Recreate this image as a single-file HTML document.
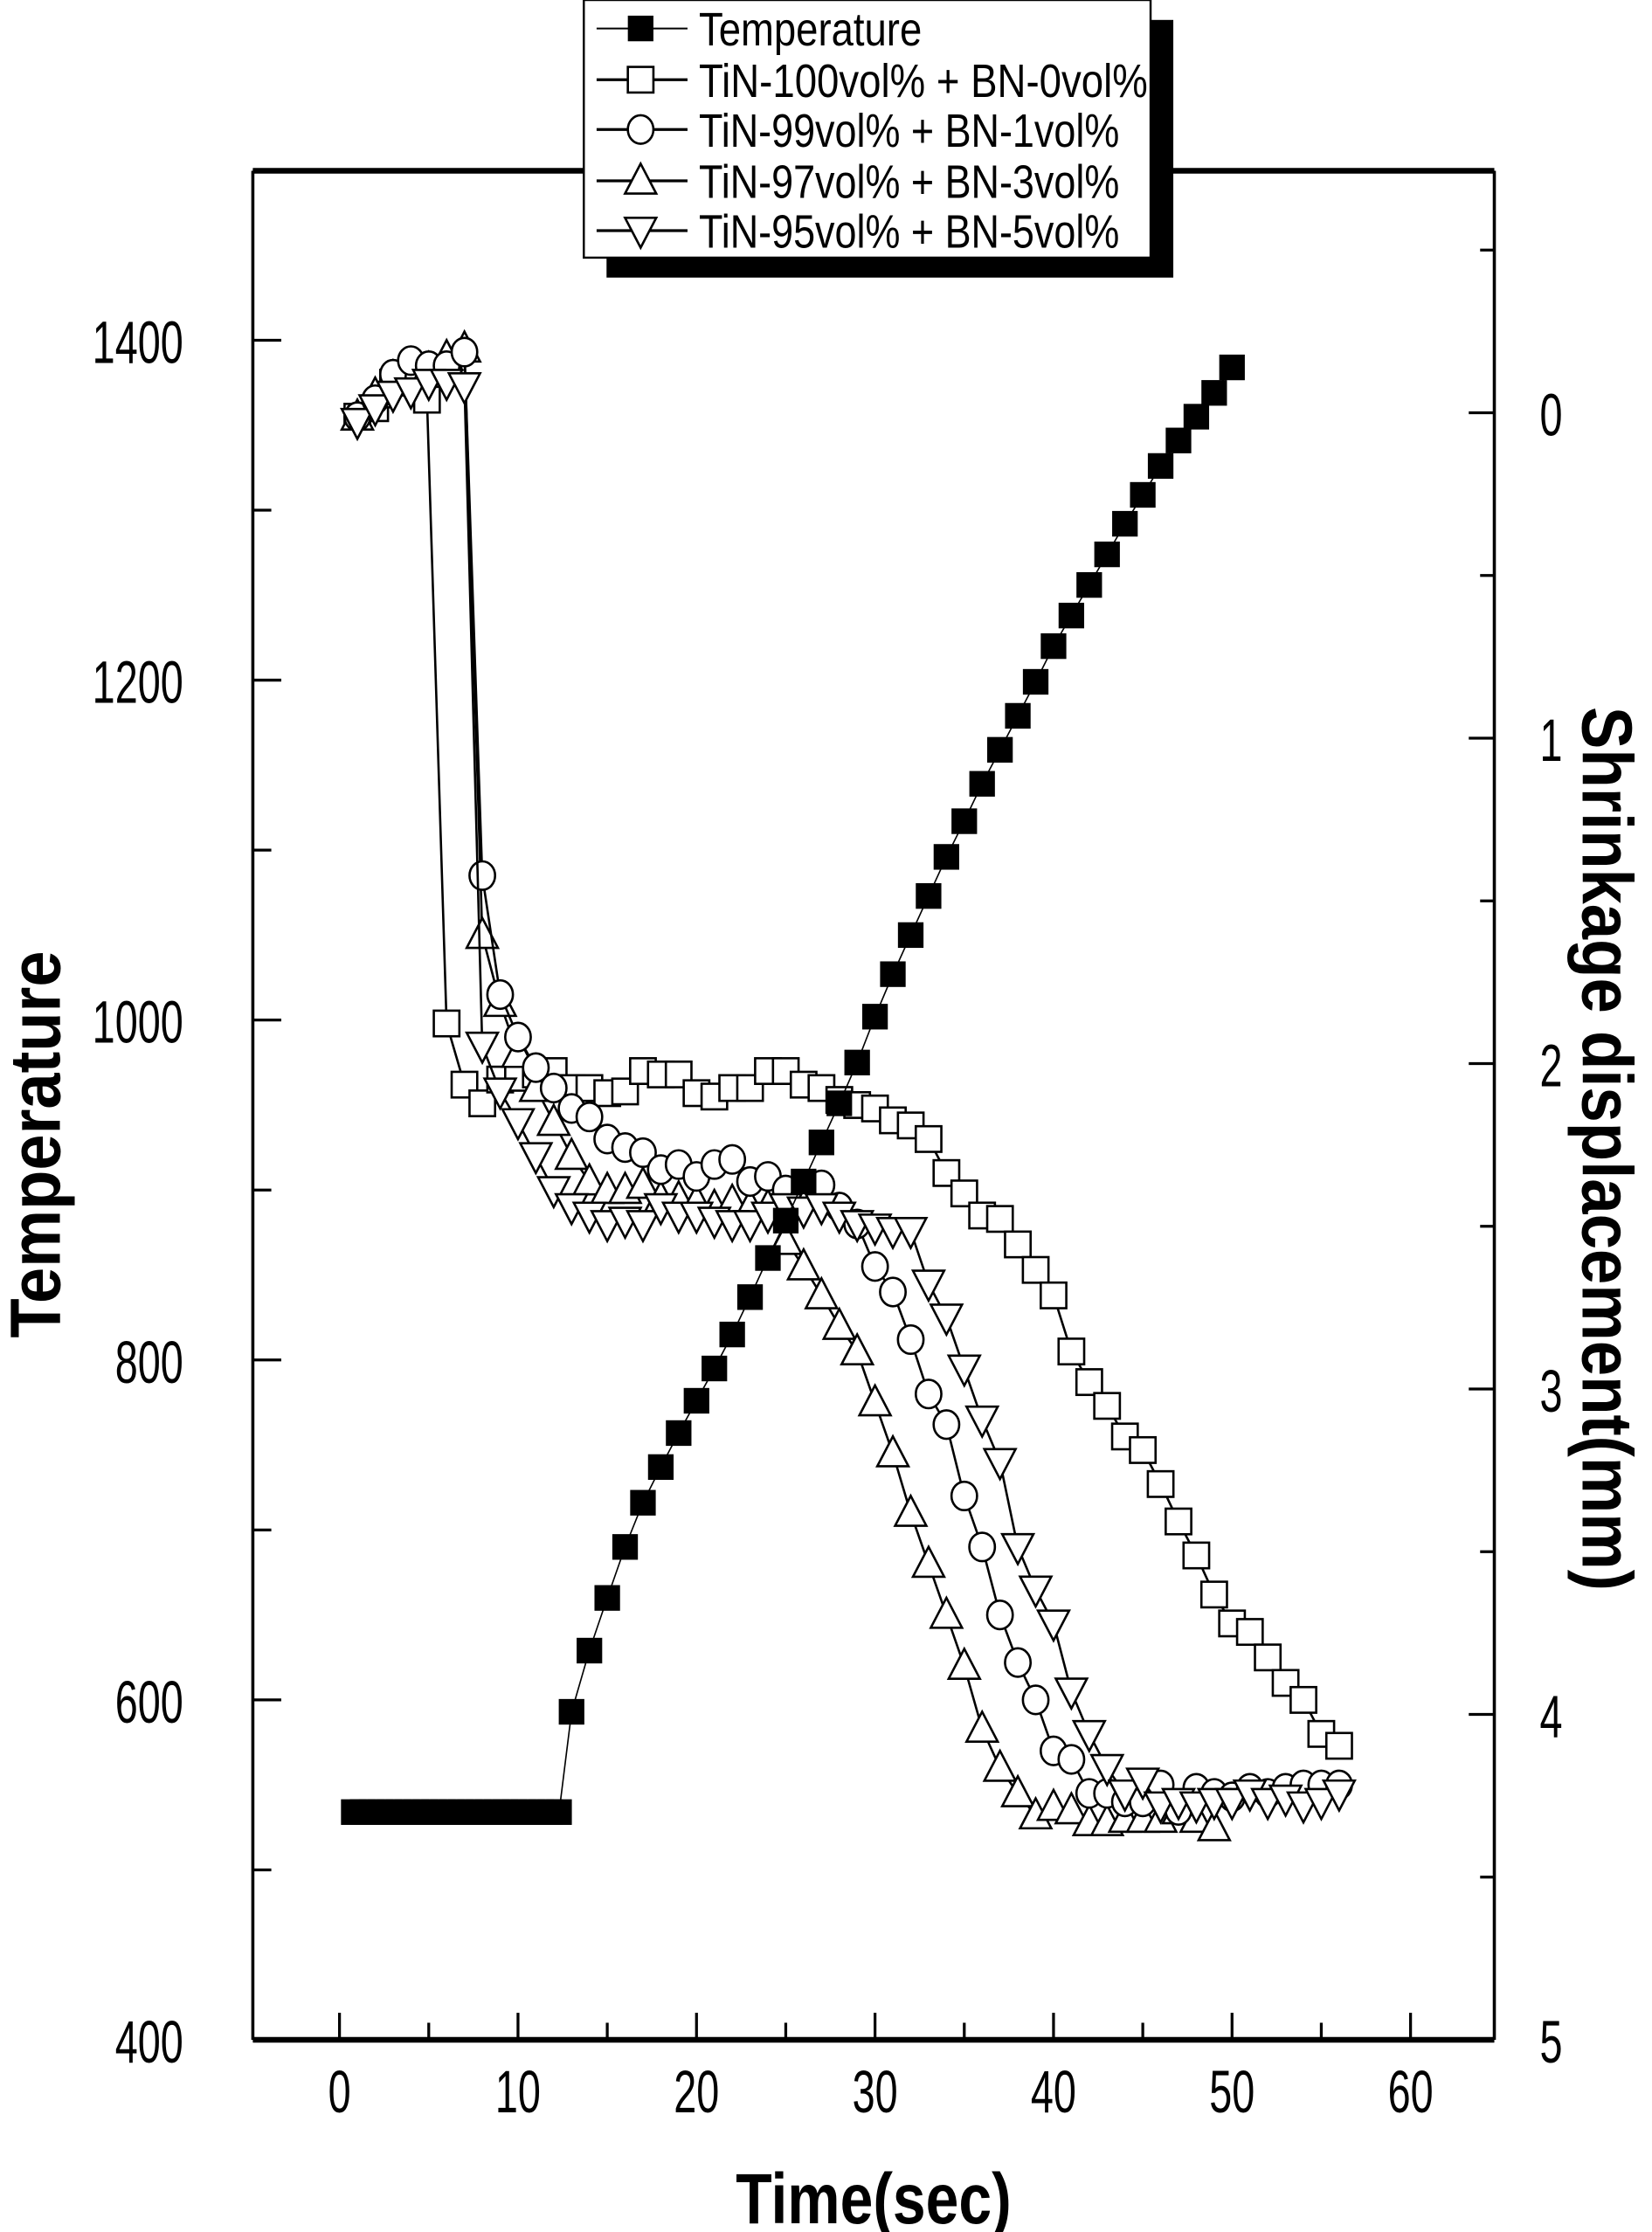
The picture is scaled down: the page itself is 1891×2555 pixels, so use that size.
<!DOCTYPE html>
<html><head><meta charset="utf-8"><style>
html,body{margin:0;padding:0;background:#fff;}
svg{display:block;}
text{font-family:"Liberation Sans Narrow","Liberation Sans",sans-serif;fill:#000;}
</style></head><body>
<svg id="s" width="1891" height="2555" viewBox="0 0 1163 1568" preserveAspectRatio="none" xmlns="http://www.w3.org/2000/svg">
<rect x="0" y="0" width="1163" height="1568" fill="#fff"/>
<g id="axes" stroke="#000" fill="none">
<line x1="178" y1="120" x2="1052" y2="120" stroke-width="4"/>
<line x1="178" y1="1433" x2="1052" y2="1433" stroke-width="4"/>
<line x1="178" y1="120" x2="178" y2="1433" stroke-width="2.2"/>
<line x1="1052" y1="120" x2="1052" y2="1433" stroke-width="2.2"/>
</g>
<g id="ticks" stroke="#000" stroke-width="2"></g>
<g id="labels" font-size="42"></g>
<g id="data"></g>
<text x="615" y="1562" font-size="50" font-weight="bold" text-anchor="middle" textLength="194" lengthAdjust="spacingAndGlyphs">Time(sec)</text>
<text transform="translate(42,804) rotate(-90)" font-size="50" font-weight="bold" text-anchor="middle" textLength="272" lengthAdjust="spacingAndGlyphs">Temperature</text>
<text transform="translate(1114,807) rotate(90)" font-size="50" font-weight="bold" text-anchor="middle" textLength="621" lengthAdjust="spacingAndGlyphs">Shrinkage displacement(mm)</text>
<g id="legend">
<rect x="427" y="14" width="399" height="181" fill="#000"/>
<rect x="411" y="0" width="399" height="181" fill="#fff" stroke="#000" stroke-width="1.5"/>
</g>
</svg>
<script>
var NS="http://www.w3.org/2000/svg";
function el(p,t,a){var e=document.createElementNS(NS,t);for(var k in a)e.setAttribute(k,a[k]);p.appendChild(e);return e;}
var X=function(t){return 239+t*12.567;};
var Y=function(v){return 1433-(v-400)*1.194;};
var tk=document.getElementById('ticks'),lb=document.getElementById('labels'),dg=document.getElementById('data'),lg=document.getElementById('legend');
for(var t=0;t<=60;t+=5){var x=X(t);var L=(t%10==0)?19:12;el(tk,'line',{x1:x,y1:1433,x2:x,y2:1433-L});}
for(var t=0;t<=60;t+=10){var s=String(t);var e=el(lb,'text',{x:X(t),y:1484,'text-anchor':'middle',textLength:s.length*16,lengthAdjust:'spacingAndGlyphs'});e.textContent=s;}
for(var v=400;v<=1500;v+=100){var y=Y(v);var L=(v%200==0)?20:13;el(tk,'line',{x1:178,y1:y,x2:178+L,y2:y});
 if(v%200==0&&v<=1400){var s=String(v);var e=el(lb,'text',{x:129,y:y+16,'text-anchor':'end',textLength:s.length*16,lengthAdjust:'spacingAndGlyphs'});e.textContent=s;}}
for(var r=-0.5;r<=5;r+=0.5){var y=290+r*228.6;var L=(Math.abs(r%1)<0.01)?18:10;el(tk,'line',{x1:1052,y1:y,x2:1052-L,y2:y});
 if(Math.abs(r%1)<0.01&&r>=0){var e=el(lb,'text',{x:1084,y:y+16,'text-anchor':'start',textLength:16,lengthAdjust:'spacingAndGlyphs'});e.textContent=r;}}
function marker(g,type,x,y){
 var s=9,sw=1.6;
 if(type=='fs')el(g,'rect',{x:x-s,y:y-s,width:2*s,height:2*s,fill:'#000'});
 else if(type=='s')el(g,'rect',{x:x-s,y:y-s,width:2*s,height:2*s,fill:'#fff',stroke:'#000','stroke-width':sw});
 else if(type=='c')el(g,'ellipse',{cx:x,cy:y,rx:9,ry:10,fill:'#fff',stroke:'#000','stroke-width':sw});
 else if(type=='u')el(g,'polygon',{points:(x)+','+(y-12)+' '+(x-11)+','+(y+9)+' '+(x+11)+','+(y+9),fill:'#fff',stroke:'#000','stroke-width':sw});
 else if(type=='d')el(g,'polygon',{points:(x)+','+(y+12)+' '+(x-11)+','+(y-9)+' '+(x+11)+','+(y-9),fill:'#fff',stroke:'#000','stroke-width':sw});
}
function series(type,pts,lw){
 var g=el(dg,'g',{});
 var d=pts.map(function(p,i){return (i?'L':'M')+X(p[0]).toFixed(1)+','+Y(p[1]).toFixed(1);}).join(' ');
 el(g,'path',{d:d,fill:'none',stroke:'#000','stroke-width':lw});
 pts.forEach(function(p){marker(g,type,X(p[0]),Y(p[1]));});
}
function seq(start,arr){return arr.map(function(v,i){return [start+i,v];});}
var sq=seq(1,[1355,1360,1375,1380,1365]).concat(seq(6,[998,962,951,965,966,968,970,960,960,957,958,970,968,968,957,955,960,960,970,970,962,960,953,950,948,941,938,930,910,898,885,883,868,853,838,805,787,773,755,747,727,705,685,662,645,640,625,610,600,580,573]));
sq[4]=[4.9,1365];
var ci=seq(1,[1355,1365,1380,1388,1385,1385,1393]).concat(seq(8,[1085,1015,990,972,960,948,943,930,925,922,912,915,908,915,918,905,908,900,895,903,890,880,855,840,812,780,762,720,690,650,622,600,570,565,545,545,540,540,550,535,548,545,543,548,545,548,550,550,550]));
var tu=seq(1,[1355,1368,1378,1380,1383,1390,1395]).concat(seq(8,[1050,1010,980,960,940,920,905,900,900,903,895,895,893,890,893,890,890,870,855,838,820,805,775,745,710,680,650,620,583,560,545,532,537,535,528,528,530,530,530,535,530,525]));
var td=seq(1,[1352,1360,1368,1370,1375,1375,1373]).concat(seq(8,[985,958,940,920,900,890,885,880,882,880,890,885,885,882,880,880,885,890,888,890,885,880,878,876,876,845,825,795,765,740,690,665,645,605,580,560,545,552,538,540,538,540,540,545,540,542,538,540,545]));
series('s',sq,1.6);series('u',tu,1.6);series('c',ci,1.6);series('d',td,1.6);
var temp=[];for(var t=0.8;t<=12.3;t+=0.5)temp.push([t,534]);
temp=temp.concat(seq(13,[593,629,660,690,716,737,757,776,795,815,837,860,882,905,928,951,975,1002,1027,1050,1073,1096,1117,1139,1159,1179,1199,1220,1238,1256,1274,1292,1309,1326,1341,1355,1369,1384]));
series('fs',temp,1);
var names=['Temperature','TiN-100vol% + BN-0vol%','TiN-99vol% + BN-1vol%','TiN-97vol% + BN-3vol%','TiN-95vol% + BN-5vol%'];
var types=['fs','s','c','u','d'];var ys=[20,56,91,127,162];
for(var i=0;i<5;i++){var y=ys[i];el(lg,'line',{x1:420,y1:y,x2:484,y2:y,stroke:'#000','stroke-width':i?2:1.2});
 marker(lg,types[i],451,y);
 var w=[157,316,296,296,296][i];
 var e=el(lg,'text',{x:492,y:y+12,'font-size':33,textLength:w,lengthAdjust:'spacingAndGlyphs'});e.textContent=names[i];}
</script>
</body></html>
